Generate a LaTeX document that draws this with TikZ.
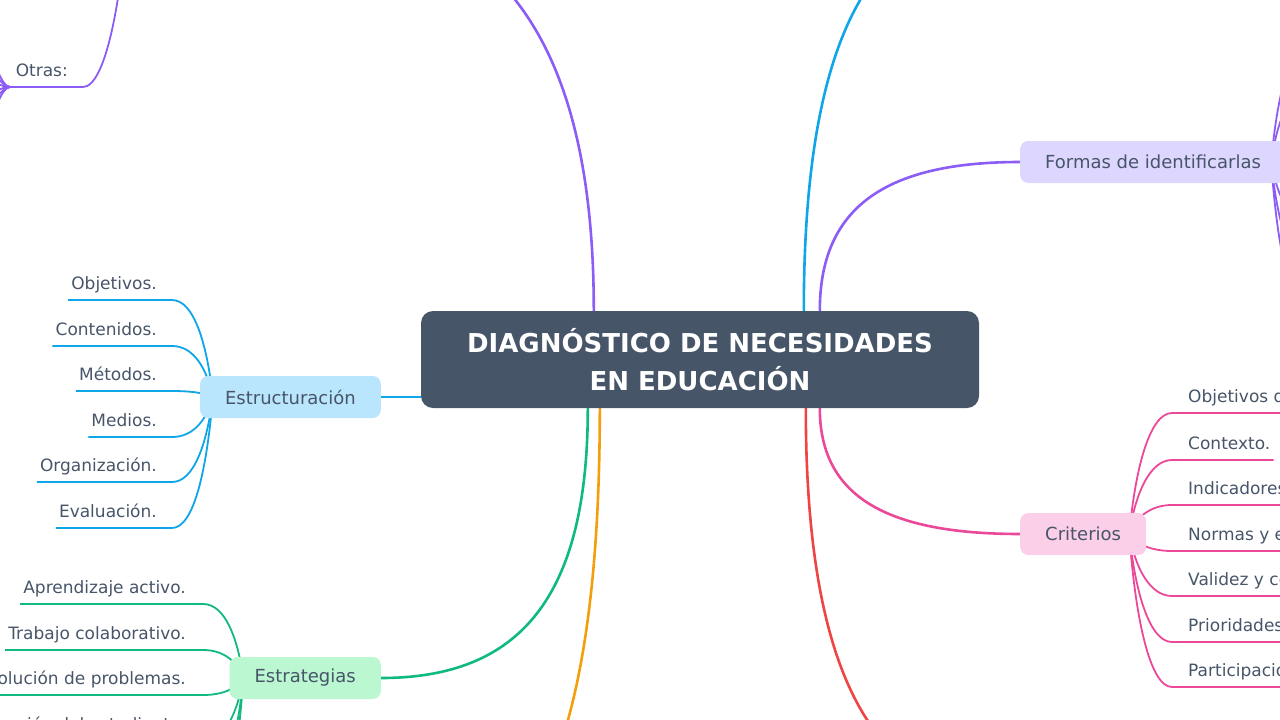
\documentclass[tikz,border=0pt]{standalone}
\usepackage{fontspec}
\setmainfont{DejaVu Sans}
\usetikzlibrary{backgrounds}

\definecolor{pizarra}{HTML}{475569}
\definecolor{morado}{HTML}{8B5CF6}
\definecolor{moradoclaro}{HTML}{DDD6FE}
\definecolor{azul}{HTML}{0EA5E9}
\definecolor{azulclaro}{HTML}{BAE6FD}
\definecolor{verde}{HTML}{10B981}
\definecolor{verdeclaro}{HTML}{BBF7D0}
\definecolor{rosa}{HTML}{EC4899}
\definecolor{rosaclaro}{HTML}{FBCFE8}
\definecolor{naranja}{HTML}{F59E0B}
\definecolor{rojo}{HTML}{EF4444}

\tikzset{
    rama/.style={rounded corners=8pt, inner xsep=25pt, minimum height=42pt, text=pizarra, font=\fontsize{18}{21}\selectfont},
    hoja/.style={inner sep=0pt, text height=13pt, text depth=10pt, text=pizarra, font=\fontsize{17}{20}\selectfont},
    tronco/.style={line width=2.6pt},
    enlace/.style={line width=1.8pt},
}

\begin{document}
\begin{tikzpicture}[x=1pt, y=-1pt]
    \useasboundingbox (0,0) rectangle (1280,720);
    \clip (0,0) rectangle (1280,720);

    % nodo central
    \node[fill=pizarra, rounded corners=12pt, minimum width=558pt, minimum height=97pt, align=center, text=white, font=\fontsize{26}{38.5}\selectfont\bfseries] (c) at (700,359.5) {DIAGNÓSTICO DE NECESIDADES\\EN EDUCACIÓN};

    % ramas
    \node[rama, fill=azulclaro, anchor=east] (es) at (381,397) {Estructuración};
    \node[rama, fill=verdeclaro, anchor=east] (st) at (381,678) {Estrategias};
    \node[rama, fill=rosaclaro, anchor=west] (cr) at (1020,534) {Criterios};
    \node[rama, fill=moradoclaro, anchor=west] (fo) at (1020,162) {Formas de identificarlas};

    % ramas fuera del cuadro
    \coordinate (vt) at (270,-100);
    \coordinate (vtl) at (128,-100);
    \coordinate (az) at (1020,-90);
    \coordinate (na) at (381,900);
    \coordinate (ro) at (1020,800);

    % conexiones principales
    \begin{scope}[on background layer]
        \draw[tronco, morado] ([xshift=173pt]c.north west) .. controls +(0,-288) and +(217,0) .. (vt);
        \draw[tronco, azul] ([xshift=383pt]c.north west) .. controls +(0,-282) and +(-145,0) .. (az);
        \draw[tronco, morado] ([xshift=399pt]c.north west) .. controls +(0,-104) and +(-134,0) .. (fo.west);
        \draw[tronco, azul] (es.east) -- (es.east -| c.west);
        \draw[tronco, verde] ([xshift=167pt]c.south west) .. controls +(0,189) and +(139,0) .. (st.east);
        \draw[tronco, naranja] ([xshift=179pt]c.south west) .. controls +(0,344) and +(147,0) .. (na);
        \draw[tronco, rojo] ([xshift=385pt]c.south west) .. controls +(0,274) and +(-143,0) .. (ro);
        \draw[tronco, rosa] ([xshift=399pt]c.south west) .. controls +(0,88) and +(-134,0) .. (cr.west);
    \end{scope}

    % Estructuración
    \foreach \n/\t/\y in {e1/Objetivos./300, e2/Contenidos./346, e3/Métodos./391, e4/Medios./437, e5/Organización./482, e6/Evaluación./528} {
        \node[hoja, anchor=south east] (\n) at (157,\y) {\t};
        \begin{pgfonlayer}{background}
            \draw[enlace, azul] ([xshift=13pt]es.west) .. controls +(-6,{0.55*(\y-397)}) and +(22,0) .. ([xshift=15pt]\n.south east) -- ([xshift=-3pt]\n.south west);
        \end{pgfonlayer}
    }

    % Estrategias
    \foreach \n/\t/\y in {s1/Aprendizaje activo./604, s2/Trabajo colaborativo./650, s3/Resolución de problemas./695, s4/Participación del estudiante./741} {
        \node[hoja, anchor=south east] (\n) at (186,\y) {\t};
        \begin{pgfonlayer}{background}
            \draw[enlace, verde] ([xshift=14pt]st.west) .. controls +(-6,{0.55*(\y-678)}) and +(22,0) .. ([xshift=17pt]\n.south east) -- ([xshift=-3pt]\n.south west);
        \end{pgfonlayer}
    }
    \foreach \i/\y in {5/787, 6/832} {
        \coordinate (s\i) at (203,\y);
        \begin{pgfonlayer}{background}
            \draw[enlace, verde] ([xshift=14pt]st.west) .. controls +(-6,{0.55*(\y-678)}) and +(22,0) .. (s\i);
        \end{pgfonlayer}
    }

    % Criterios
    \foreach \n/\t/\y in {c1/Objetivos del diagnóstico./413, c2/Contexto./460, c3/Indicadores./505, c4/Normas y estándares./551, c5/Validez y confiabilidad./596, c6/Prioridades./642, c7/Participación./687} {
        \node[hoja, anchor=south west] (\n) at (1188,\y) {\t};
        \begin{pgfonlayer}{background}
            \draw[enlace, rosa] ([xshift=-17pt]cr.east) .. controls +(6,{0.55*(\y-534)}) and +(-22,0) .. ([xshift=-16pt]\n.south west) -- ([xshift=3pt]\n.south east);
        \end{pgfonlayer}
    }

    % Formas de identificarlas (hojas fuera del cuadro)
    \foreach \i/\y in {1/41, 2/87, 3/132, 4/178, 5/224, 6/269, 7/315} {
        \coordinate (f\i) at (1312,\y);
        \begin{pgfonlayer}{background}
            \draw[enlace, morado] ([xshift=-15pt]fo.east) .. controls +(6,{0.55*(\y-162)}) and +(-22,0) .. (f\i);
        \end{pgfonlayer}
    }

    % Otras
    \node[hoja, anchor=south east] (ot) at (68,87) {Otras:};
    \begin{pgfonlayer}{background}
        \draw[enlace, morado] (vtl) .. controls +(-6,103) and +(22,0) .. ([xshift=15pt]ot.south east) -- ([xshift=-5pt]ot.south west);
    \end{pgfonlayer}
    \foreach \i/\y in {1/-27, 2/19, 3/64, 4/110, 5/155, 6/201} {
        \coordinate (o\i) at (-40,\y);
        \begin{pgfonlayer}{background}
            \draw[enlace, morado] ([xshift=-5pt]ot.south west) .. controls +(-20,0) and +(20,0) .. (o\i);
        \end{pgfonlayer}
    }
\end{tikzpicture}
\end{document}
